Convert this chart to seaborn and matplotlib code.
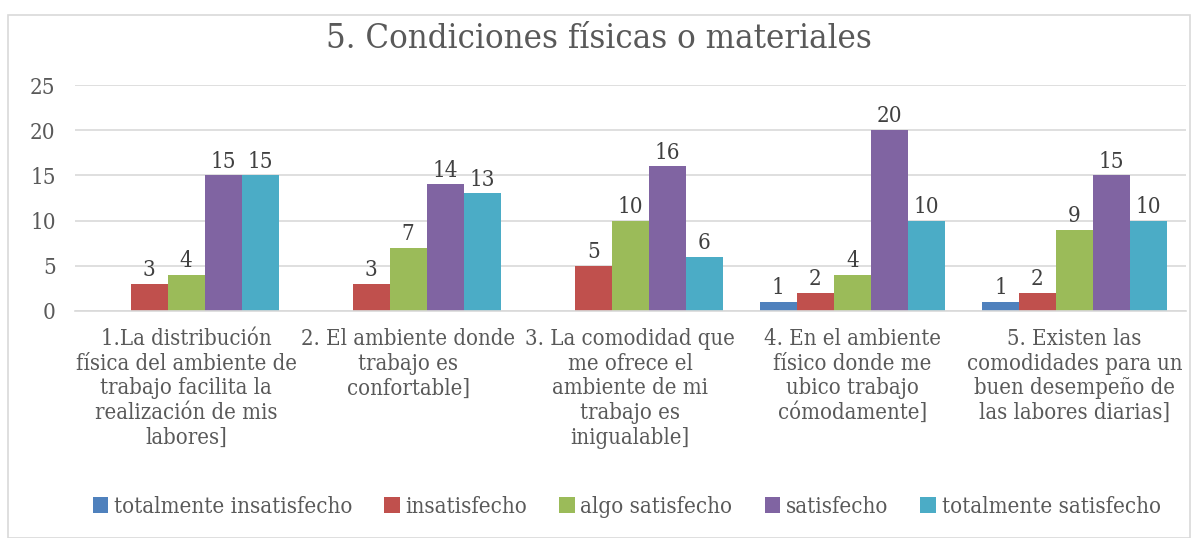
import numpy as np
import pandas as pd
import matplotlib
matplotlib.use("Agg")
import matplotlib.pyplot as plt
import seaborn as sns
from matplotlib.patches import Rectangle

TITLE = "5. Condiciones físicas o materiales"

categories = [
    "1.La distribución\nfísica del ambiente de\ntrabajo facilita la\nrealización de mis\nlabores]",
    "2. El ambiente donde\ntrabajo es\nconfortable]",
    "3. La comodidad que\nme ofrece el\nambiente de mi\ntrabajo es\ninigualable]",
    "4. En el ambiente\nfísico donde me\nubico trabajo\ncómodamente]",
    "5. Existen las\ncomodidades para un\nbuen desempeño de\nlas labores diarias]",
]

series_names = [
    "totalmente insatisfecho",
    "insatisfecho",
    "algo satisfecho",
    "satisfecho",
    "totalmente satisfecho",
]

totalmente_insatisfecho = [0, 0, 0, 1, 1]
insatisfecho = [3, 3, 5, 2, 2]
algo_satisfecho = [4, 7, 10, 4, 9]
satisfecho = [15, 14, 16, 20, 15]
totalmente_satisfecho = [15, 13, 6, 10, 10]

colors = ["#4F81BD", "#C0504D", "#9BBB59", "#8064A2", "#4BACC6"]
y_ticks = [0, 5, 10, 15, 20, 25]

sns.set_theme(style="white")
plt.rcParams["font.family"] = ["DejaVu Serif"]
plt.rcParams["font.stretch"] = "condensed"

values = [totalmente_insatisfecho, insatisfecho, algo_satisfecho,
          satisfecho, totalmente_satisfecho]
rows = []
for name, vals in zip(series_names, values):
    for cat, v in zip(categories, vals):
        rows.append({"categoria": cat, "respuesta": name, "valor": v})
df = pd.DataFrame(rows)

fig = plt.figure(figsize=(11.98, 5.38), dpi=100)
ax = fig.add_axes([0.0626, 0.422, 0.927, 0.42])

sns.barplot(data=df, x="categoria", y="valor", hue="respuesta",
            hue_order=series_names, order=categories,
            palette=colors, width=0.833, saturation=1, ax=ax,
            edgecolor="none", legend=True)

# etiquetas de datos, sin mostrar los ceros
for cont in ax.containers:
    labels = [f"{b.get_height():.0f}" if b.get_height() > 0 else "" for b in cont]
    ax.bar_label(cont, labels=labels, padding=2, fontsize=16, color="#404040")

ax.set_ylim(0, 25)
ax.set_yticks(y_ticks)
ax.set_xlim(-0.5, len(categories) - 0.5)
ax.yaxis.grid(True, color="#d9d9d9", linewidth=1.2)
ax.set_axisbelow(True)
for s in ["top", "right", "left"]:
    ax.spines[s].set_visible(False)
ax.spines["bottom"].set_color("#d9d9d9")
ax.spines["bottom"].set_linewidth(1.2)
ax.tick_params(axis="y", length=0, labelsize=16, colors="#595959", pad=14)
ax.tick_params(axis="x", length=0, labelsize=15.8, colors="#595959", pad=12)
for lbl in ax.get_xticklabels():
    lbl.set_linespacing(1.17)
ax.set_xlabel("")
ax.set_ylabel("")

handles, labs = ax.get_legend_handles_labels()
ax.get_legend().remove()
fig.legend(handles, labs, loc="center", bbox_to_anchor=(0.523, 0.058), ncol=5,
           frameon=False, fontsize=16, handlelength=0.7, handleheight=0.7,
           handletextpad=0.25, columnspacing=1.45, labelcolor="#595959")

fig.text(0.5, 0.928, TITLE, ha="center", va="center", fontsize=24.8, color="#595959")

fig.patches.append(Rectangle((8 / 1198, 0.0), 1182 / 1198, 1 - 15 / 538,
                             transform=fig.transFigure, fill=False,
                             edgecolor="#d9d9d9", linewidth=1.2))

fig.savefig("out.png", dpi=100)
